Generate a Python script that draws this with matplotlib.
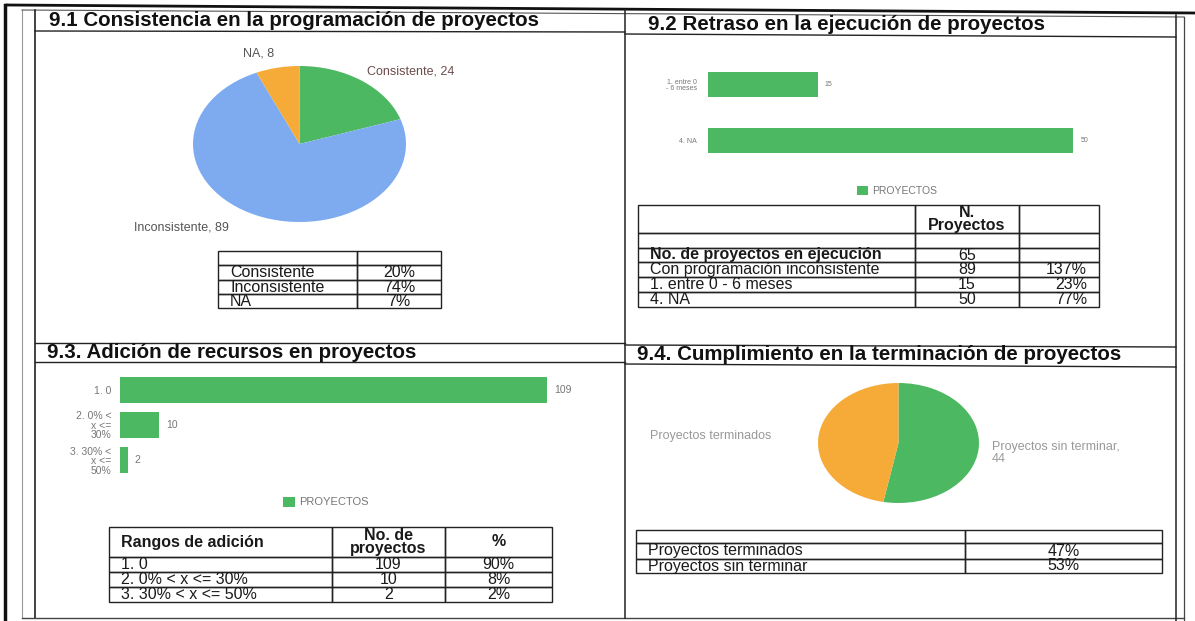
import matplotlib.pyplot as plt
from matplotlib.table import Table

plt.rcParams['font.family'] = ['Liberation Sans', 'DejaVu Sans']

W, H = 1195, 621

# 9.1 Consistencia en la programación
consist_labels = ['Consistente', 'Inconsistente', 'NA']
consist_counts = [24, 89, 8]
consist_pct = ['20%', '74%', '7%']

# 9.2 Retraso en la ejecución
delay_ticks = ['1. entre 0\n- 6 meses', '4. NA']
delay_counts = [15, 50]
delay_rows = ['No. de proyectos en ejecución', 'Con programación inconsistente',
              '1. entre 0 - 6 meses', '4. NA']
delay_nums = ['65', '89', '15', '50']
delay_pct = ['', '137%', '23%', '77%']

# 9.3 Adición de recursos
add_ticks = ['1. 0', '2. 0% <\nx <=\n30%', '3. 30% <\nx <=\n50%']
add_counts = [109, 10, 2]
add_rows = ['1. 0', '2. 0% < x <= 30%', '3. 30% < x <= 50%']
add_pct = ['90%', '8%', '2%']

# 9.4 Cumplimiento en la terminación
done_labels = ['Proyectos sin terminar', 'Proyectos terminados']
done_counts = [44, 39]
done_rows = ['Proyectos terminados', 'Proyectos sin terminar']
done_pct = ['47%', '53%']

GREEN = '#4db862'
BLUE = '#7eabf0'
ORANGE = '#f6ab38'
GREY = '#777777'

fig = plt.figure(figsize=(W / 100, H / 100), dpi=100)
fig.patch.set_facecolor('white')


def px_axes(x0, y0, x1, y1):
    return fig.add_axes([x0 / W, 1 - y1 / H, (x1 - x0) / W, (y1 - y0) / H])


# frame lines and titles, in pixel coordinates
bg = px_axes(0, 0, W, H)
bg.set_xlim(0, W)
bg.set_ylim(H, 0)
bg.axis('off')

bg.plot([5, 5], [5, 621], color='#111', lw=2.5)
bg.plot([22, 22], [10, 618], color='#999', lw=0.8)
bg.plot([7, 1195], [5, 13], color='#111', lw=2)
bg.plot([22, 1184], [10, 17], color='#555', lw=0.8)
bg.plot([35, 35], [10, 618], color='#222', lw=1.2)
bg.plot([22, 1184], [618, 618], color='#444', lw=1)
bg.plot([1176, 1176], [15, 621], color='#222', lw=1.1)
bg.plot([1184, 1184], [17, 621], color='#444', lw=0.9)
bg.plot([625, 625], [10, 618], color='#222', lw=1.1)
bg.plot([35, 625], [31, 32], color='#222', lw=1)
bg.plot([625, 1176], [34, 37], color='#222', lw=1)
bg.plot([35, 625], [343, 343], color='#222', lw=1)
bg.plot([625, 1176], [345, 347], color='#222', lw=1)
bg.plot([35, 625], [362, 362], color='#222', lw=1)
bg.plot([625, 1176], [364, 367], color='#222', lw=1)

title_kw = dict(fontsize=14.8, fontweight='bold', va='center', color='#111')
bg.text(49, 21, '9.1 Consistencia en la programación de proyectos', **title_kw)
bg.text(648, 24, '9.2 Retraso en la ejecución de proyectos', **title_kw)
bg.text(47, 352, '9.3. Adición de recursos en proyectos', **title_kw)
bg.text(637, 355, '9.4. Cumplimiento en la terminación de proyectos', **title_kw)


def pie_panel(rect, counts, colors):
    ax = px_axes(*rect)
    ax.pie(counts, colors=colors, startangle=90, counterclock=False,
           wedgeprops=dict(linewidth=0))
    ax.set_aspect('auto')
    ax.set_xlim(-1, 1)
    ax.set_ylim(-1, 1)
    return ax


def bar_panel(rect, ticks, counts, xmax, height, tick_fs, tick_pad, legend_xy, legend_fs):
    ax = px_axes(*rect)
    y = list(range(len(counts)))
    bars = ax.barh(y, counts, height=height, color=GREEN, label='PROYECTOS')
    ax.set_ylim(len(counts) - 0.5, -0.5)
    ax.set_xlim(0, xmax)
    ax.set_yticks(y, ticks)
    ax.set_xticks([])
    ax.tick_params(axis='y', length=0, pad=tick_pad, labelsize=tick_fs, labelcolor=GREY)
    for lab in ax.get_yticklabels():
        lab.set_linespacing(0.95)
    for s in ax.spines.values():
        s.set_visible(False)
    ax.patch.set_alpha(0)
    ax.bar_label(bars, padding=5, fontsize=tick_fs, color=GREY)
    ax.legend(loc='center', bbox_to_anchor=(legend_xy[0] / W, 1 - legend_xy[1] / H),
              bbox_transform=fig.transFigure, frameon=False, fontsize=legend_fs,
              handlelength=1.0, handleheight=1.0, handletextpad=0.4, labelcolor=GREY)
    return ax


def draw_table(x0, y0, widths, heights, rows, locs, bold=(), fs=11.5):
    ax = px_axes(x0, y0, x0 + sum(widths), y0 + sum(heights))
    ax.axis('off')
    tb = Table(ax, bbox=[0, 0, 1, 1])
    for r, row in enumerate(rows):
        for c, txt in enumerate(row):
            cell = tb.add_cell(r, c, width=widths[c], height=heights[r], text=txt,
                               loc=locs[c], edgecolor='#222', facecolor='none')
            cell.PAD = 12 / widths[c]
            cell.set_linewidth(1)
            cell.get_text().set_linespacing(0.85)
            cell.get_text().set_color('#1a1a1a')
            if (r, c) in bold or r in bold:
                cell.get_text().set_fontweight('bold')
    tb.auto_set_font_size(False)
    tb.set_fontsize(fs)
    ax.add_table(tb)
    return tb


# ---- 9.1 pie + table
pie_panel((193, 66, 406, 222), consist_counts, [GREEN, BLUE, ORANGE])
lab_kw = dict(fontsize=9, color='#555', va='center')
bg.text(243, 53, f'{consist_labels[2]}, {consist_counts[2]}', **lab_kw)
bg.text(367, 71, f'{consist_labels[0]}, {consist_counts[0]}', fontsize=9,
        color='#6b4c4c', va='center')
bg.text(134, 228, f'{consist_labels[1]}, {consist_counts[1]}', **lab_kw)

rows1 = [['', '']] + [[n, p] for n, p in zip(consist_labels, consist_pct)]
draw_table(218, 251, [139, 84], [14, 15, 14, 14], rows1, ['left', 'center'])

# ---- 9.2 bars + table
bar_panel((708, 57, 1110, 168), delay_ticks, delay_counts, 55, 0.45, 5, 8,
          (897, 191), 7.5)

rows2 = [['', 'N.\nProyectos', ''], ['', '', '']]
rows2 += [[n, v, p] for n, v, p in zip(delay_rows, delay_nums, delay_pct)]
draw_table(638, 205, [277, 104, 80], [28, 15, 14, 15, 15, 15], rows2,
           ['left', 'center', 'right'], bold=[(0, 1), (2, 0)])

# ---- 9.3 bars + table
bar_panel((120, 372, 590, 478), add_ticks, add_counts, 120, 0.74, 7.5, 6,
          (326, 502), 8)

rows3 = [['Rangos de adición', 'No. de\nproyectos', '%']]
rows3 += [[n, str(v), p] for n, v, p in zip(add_rows, add_counts, add_pct)]
draw_table(109, 527, [223, 113, 107], [30, 15, 15, 15], rows3,
           ['left', 'center', 'center'], bold=[0])

# ---- 9.4 pie + table
pie_panel((818, 383, 979, 503), done_counts, [GREEN, ORANGE])
bg.text(650, 436, done_labels[1], fontsize=9, color='#999', va='center')
bg.text(992, 453, f'{done_labels[0]},\n{done_counts[0]}', fontsize=9, color='#999',
        va='center', linespacing=1.1)

rows4 = [['', '']] + [[n, p] for n, p in zip(done_rows, done_pct)]
draw_table(636, 530, [329, 197], [13, 16, 14], rows4, ['left', 'center'])

fig.savefig('out.png', dpi=100, facecolor='white')
